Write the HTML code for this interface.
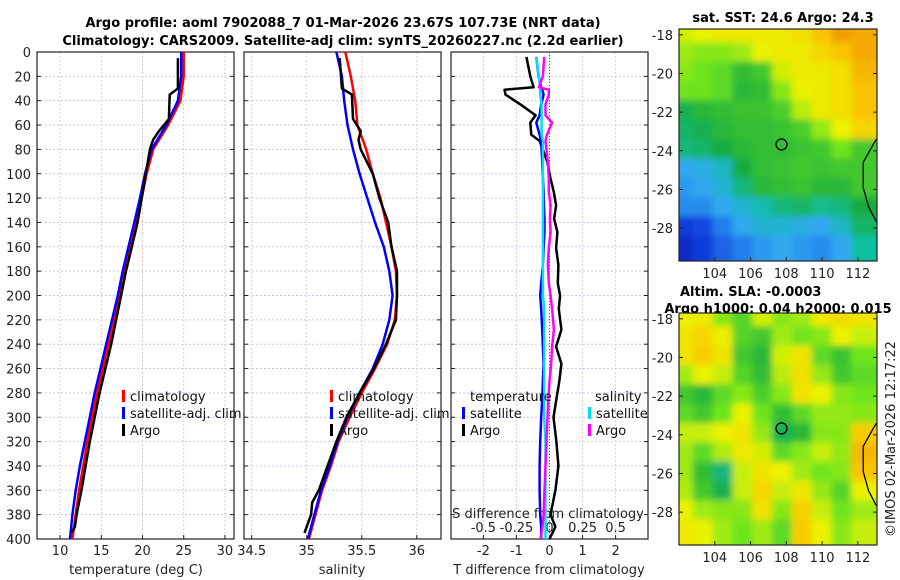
<!DOCTYPE html>
<html><head><meta charset="utf-8"><style>
body{margin:0;background:#fff}
svg{display:block;font-family:"DejaVu Sans","Liberation Sans",sans-serif}
</style></head><body>
<svg id="c" width="900" height="580" viewBox="0 0 900 580">
<defs>
<filter id="bl" x="-5%" y="-5%" width="110%" height="110%"><feGaussianBlur stdDeviation="3.5"/></filter>
<clipPath id="m1c"><rect x="679" y="29" width="198" height="232"/></clipPath>
<clipPath id="m2c"><rect x="679" y="313" width="198" height="232"/></clipPath>
</defs>
<text x="343" y="27" text-anchor="middle" font-weight="bold" font-size="13">Argo profile: aoml 7902088_7 01-Mar-2026 23.67S 107.73E (NRT data)</text>
<text x="343" y="45" text-anchor="middle" font-weight="bold" font-size="13">Climatology: CARS2009. Satellite-adj clim: synTS_20260227.nc (2.2d earlier)</text>
<text x="783" y="22" text-anchor="middle" font-weight="bold" font-size="13">sat. SST: 24.6 Argo: 24.3</text>
<text x="680" y="296" text-anchor="start" font-weight="bold" font-size="13">Altim. SLA: -0.0003</text>
<text x="778" y="313" text-anchor="middle" font-weight="bold" font-size="13">Argo h1000: 0.04 h2000: 0.015</text>
<text transform="translate(895,439) rotate(-90)" text-anchor="middle" font-size="13" fill="#222">©IMOS 02-Mar-2026 12:17:22</text>
</svg>
<script>
// ---- data ----
const depthClim=[0,20,40,60,80,100,120,140,160,180,200,220,240,260,280,300,320,340,360,380,400];
const climT=[25.0,25.0,24.6,23.1,21.3,20.5,19.9,19.2,18.5,17.8,17.2,16.6,15.9,15.2,14.5,13.9,13.3,12.8,12.3,11.9,11.5];
const satT=[24.7,24.7,24.3,22.9,21.1,20.3,19.7,19.0,18.3,17.6,17.0,16.3,15.6,14.9,14.2,13.6,13.0,12.4,11.9,11.5,11.2];
const climS=[35.35,35.40,35.44,35.46,35.54,35.60,35.67,35.72,35.77,35.81,35.82,35.80,35.73,35.62,35.50,35.39,35.29,35.22,35.14,35.08,35.02];
const satS=[35.27,35.32,35.34,35.37,35.42,35.48,35.55,35.62,35.70,35.75,35.78,35.75,35.69,35.60,35.48,35.37,35.28,35.21,35.13,35.07,35.01];
const depthArgo=[5,30,35,55,65,72,80,100,120,140,160,180,200,220,240,260,280,300,320,340,360,370,380,390,395];
const argoT=[24.3,24.3,23.3,23.2,22.0,21.3,20.9,20.4,19.9,19.4,18.7,18.0,17.4,16.8,16.2,15.5,14.8,14.2,13.6,13.1,12.6,12.3,12.0,11.8,11.4];
const argoS=[35.30,35.32,35.41,35.42,35.49,35.47,35.49,35.60,35.66,35.74,35.77,35.82,35.82,35.81,35.72,35.61,35.48,35.36,35.27,35.19,35.11,35.05,35.04,35.00,34.98];
const depthDiff=[4,20,29,31,35,43,52,58,68,73,90,104,115,126,137,148,161,175,190,200,211,228,242,256,270,285,300,320,340,360,380,390,400];
const argoTdiff=[-0.70,-0.58,-0.48,-1.36,-1.33,-0.88,-0.42,-0.58,-0.55,-0.30,-0.07,0.03,0.13,0.20,0.14,0.24,0.20,0.27,0.25,0.32,0.28,0.36,0.20,0.36,0.30,0.21,0.12,0.21,0.27,0.18,0.03,0.18,0.0];
const satTdiff=[-0.40,-0.33,-0.25,-0.22,-0.18,-0.25,-0.30,-0.40,-0.30,-0.25,-0.22,-0.20,-0.18,-0.17,-0.15,-0.15,-0.18,-0.20,-0.25,-0.28,-0.25,-0.22,-0.20,-0.18,-0.20,-0.22,-0.25,-0.28,-0.30,-0.30,-0.28,-0.25,-0.25];
const satSdiff=[-0.10,-0.08,-0.07,-0.07,-0.07,-0.06,-0.06,-0.06,-0.06,-0.05,-0.05,-0.05,-0.05,-0.05,-0.05,-0.05,-0.05,-0.05,-0.05,-0.05,-0.04,-0.04,-0.04,-0.04,-0.04,-0.04,-0.04,-0.03,-0.03,-0.03,-0.03,-0.03,-0.03];
const argoSdiff=[-0.04,-0.05,-0.08,-0.005,-0.005,-0.03,-0.03,0.02,-0.02,-0.03,-0.013,-0.005,-0.005,0.008,0.003,0.008,-0.005,-0.013,-0.005,0.008,0.02,0.033,0.02,0.013,0.0,-0.008,-0.015,-0.023,-0.03,-0.038,-0.045,-0.053,-0.068];
const depthTicks=[0,20,40,60,80,100,120,140,160,180,200,220,240,260,280,300,320,340,360,380,400];
const tTicks=[10,15,20,25,30];
const sTicks=[34.5,35,35.5,36];
const dTicks=[-2,-1,0,1,2];
const dsTicks=[-0.5,-0.25,0,0.25,0.5];
const dsLabels=["-0.5","-0.25","0","0.25","0.5"];
const lonTicks=[104,106,108,110,112];
const latTicks=[-18,-20,-22,-24,-26,-28];
const argoLon=107.73, argoLat=-23.67;
const sstGrid=[
[.68,.70,.72,.72,.72,.72,.74,.80,.86,.84],
[.64,.62,.62,.64,.70,.72,.72,.76,.80,.84],
[.62,.60,.58,.53,.55,.68,.72,.72,.74,.82],
[.60,.60,.58,.52,.53,.62,.70,.72,.74,.80],
[.48,.52,.53,.54,.54,.56,.66,.72,.74,.80],
[.46,.48,.52,.53,.53,.54,.56,.63,.70,.76],
[.44,.46,.50,.52,.53,.53,.54,.55,.60,.55],
[.30,.32,.36,.50,.53,.54,.55,.54,.55,.55],
[.28,.30,.34,.44,.52,.53,.54,.52,.52,.55],
[.26,.26,.30,.34,.38,.44,.46,.42,.44,.50],
[.14,.16,.24,.30,.34,.34,.32,.30,.36,.46],
[.10,.14,.20,.24,.28,.30,.28,.26,.30,.40]];
const slaGrid=[
[.70,.72,.62,.57,.68,.62,.64,.72,.75,.73],
[.73,.76,.71,.57,.55,.64,.60,.62,.70,.67],
[.73,.78,.73,.55,.52,.68,.73,.58,.54,.60],
[.64,.70,.67,.57,.53,.66,.74,.63,.55,.58],
[.55,.52,.58,.62,.56,.62,.73,.70,.62,.60],
[.58,.55,.60,.70,.60,.53,.58,.63,.63,.62],
[.67,.67,.70,.73,.63,.48,.52,.62,.62,.78],
[.64,.58,.65,.72,.68,.58,.62,.67,.63,.82],
[.64,.53,.44,.67,.73,.70,.64,.60,.62,.80],
[.65,.55,.48,.67,.76,.67,.72,.63,.57,.70],
[.70,.64,.62,.62,.74,.62,.77,.67,.60,.64],
[.72,.70,.64,.60,.64,.58,.78,.70,.62,.67]];
const coastLon=[113.4,112.9,112.3,112.3,112.6,113.0,113.4];
const coastLat=[-22.9,-23.6,-24.6,-25.9,-26.9,-27.6,-28.1];

// ---- geometry ----
const NS='http://www.w3.org/2000/svg', svg=document.getElementById('c');
function mk(tag,at,parent){const e=document.createElementNS(NS,tag);for(const k in at)e.setAttribute(k,at[k]);(parent||svg).appendChild(e);return e;}
const TOP=52,BOT=539;
const y=d=>TOP+d*(BOT-TOP)/400;
const P1={l:37,r:234}, P2={l:244,r:441}, P3={l:451,r:648};
const tx=v=>P1.l+(v-7.2)*(P1.r-P1.l)/(31.1-7.2);
const sx=v=>P2.l+(v-34.43)*(P2.r-P2.l)/(36.22-34.43);
const dx=v=>P3.l+(v+2.98)*(P3.r-P3.l)/5.96;
const dsx=v=>dx(v*4);
const M1={l:679,r:877,t:29,b:261}, M2={l:679,r:877,t:313,b:545};
const lonX=(M,v)=>M.l+(v-102.0)*(M.r-M.l)/(113.07-102.0);
const latY=(M,v)=>M.t+(-17.7-v)*(M.b-M.t)/12.0;

function panelFrame(P,name,xt,xf,xlab){
  const g=mk('g',{});
  
  
  depthTicks.forEach(d=>{const ln=mk('line',{x1:P.l,x2:P.r,y1:y(d),y2:y(d),stroke:'#c4cbef','stroke-width':1,'stroke-dasharray':'2,2'},g);
    
    
    mk('line',{x1:P.l,x2:P.l+4,y1:y(d),y2:y(d),stroke:'#222'},g);mk('line',{x1:P.r,x2:P.r-4,y1:y(d),y2:y(d),stroke:'#222'},g);});
  xt.forEach((v,i)=>{const ln=mk('line',{x1:xf(v),x2:xf(v),y1:TOP,y2:BOT,stroke:'#e8c8b8','stroke-width':1,'stroke-dasharray':'2,2'},g);
    
    
    mk('line',{x1:xf(v),x2:xf(v),y1:BOT,y2:BOT-4,stroke:'#222'},g);
    if(xlab){const t=mk('text',{x:xf(v),y:BOT+16,'text-anchor':'middle','font-size':13,fill:'#222'},g);t.textContent=xlab[i];
    
    }});
  mk('rect',{x:P.l,y:TOP,width:P.r-P.l,height:BOT-TOP,fill:'none',stroke:'#222','stroke-width':1.2},g);
  return g;
}
panelFrame(P1,'temperature-panel',tTicks,tx,tTicks.map(String));
panelFrame(P2,'salinity-panel',sTicks,sx,sTicks.map(String));
panelFrame(P3,'difference-panel',dTicks,dx,dTicks.map(String));
depthTicks.forEach(d=>{const t=mk('text',{x:31,y:y(d)+5,'text-anchor':'end','font-size':13,fill:'#222'});t.textContent=d;
  
  });
const zl=mk('line',{x1:dx(0),x2:dx(0),y1:TOP,y2:BOT,stroke:'#555','stroke-dasharray':'1,2'});


dsTicks.forEach((v,i)=>{const t=mk('text',{x:dsx(v),y:532,'text-anchor':'middle','font-size':13,fill:'#222'});t.textContent=dsLabels[i];
  
  });
function label(x,yy,s,name,anchor){const t=mk('text',{x:x,y:yy,'text-anchor':anchor||'middle','font-size':13,fill:'#222'});t.textContent=s;
  
  return t;}
label(548,518,'S difference from climatology','s-diff-axis-title');
label(136,574,'temperature (deg C)','temperature-axis-title');
label(342,574,'salinity','salinity-axis-title');
label(549,574,'T difference from climatology','t-diff-axis-title');

function series(xs,ds,xf,color,w,name){
  const pts=xs.map((v,i)=>xf(v).toFixed(1)+','+y(ds[i]).toFixed(1)).join(' ');
  const p=mk('polyline',{points:pts,fill:'none',stroke:color,'stroke-width':w,'stroke-linejoin':'round'});
  
  
}
series(climT,depthClim,tx,'#f00',2.5,'climatology-temperature-line');
series(satT,depthClim,tx,'#00f',2.5,'satellite-temperature-line');
series(argoT,depthArgo,tx,'#000',2.5,'argo-temperature-line');
series(climS,depthClim,sx,'#f00',2.5,'climatology-salinity-line');
series(satS,depthClim,sx,'#00f',2.5,'satellite-salinity-line');
series(argoS,depthArgo,sx,'#000',2.5,'argo-salinity-line');
series(argoTdiff,depthDiff,dx,'#000',2.5,'argo-t-diff-line');
series(satTdiff,depthDiff,dx,'#00f',2.5,'satellite-t-diff-line');
series(satSdiff,depthDiff,dsx,'#00e0f0',2.5,'satellite-s-diff-line');
series(argoSdiff,depthDiff,dsx,'#f0f',2.5,'argo-s-diff-line');

function legend(x0,items,name){
  const g=mk('g',{});
  
  
  items.forEach((it,i)=>{const yy=400+i*17;
    if(it[1]){const r=mk('rect',{x:x0,y:yy-10,width:3,height:12,fill:it[1]},g);
      
      }
    const t=mk('text',{x:x0+(it[1]?8:0),y:yy+1,'font-size':13,fill:'#111'},g);t.textContent=it[0];
    
    });
}
legend(122,[['climatology','#f00'],['satellite-adj. clim','#00f'],['Argo','#000']],'temperature-legend');
legend(330,[['climatology','#f00'],['satellite-adj. clim','#00f'],['Argo','#000']],'salinity-legend');
legend(470,[['temperature',null]],'diff-legend-temp-header');
legend(462,[['',null],['satellite','#00f'],['Argo','#000']],'diff-legend-temperature');
legend(595,[['salinity',null]],'diff-legend-sal-header');
legend(588,[['',null],['satellite','#00e0f0'],['Argo','#f0f']],'diff-legend-salinity');

// ---- maps ----
const stops=[[0,[0,0,144]],[0.15,[16,64,224]],[0.3,[48,168,240]],[0.4,[16,192,160]],[0.5,[24,172,64]],[0.6,[110,228,30]],[0.7,[235,242,0]],[0.8,[250,196,0]],[0.9,[236,130,0]],[1,[192,80,0]]];
function cmap(v){for(let i=1;i<stops.length;i++){if(v<=stops[i][0]){const a=stops[i-1],b=stops[i],f=(v-a[0])/(b[0]-a[0]);
  return 'rgb('+a[1].map((c,k)=>Math.round(c+(b[1][k]-c)*f)).join(',')+')';}}return 'rgb(192,80,0)';}
function drawMap(M,grid,clip,name){
  const g=mk('g',{'clip-path':'url(#'+clip+')'});
  
  
  const inner=mk('g',{filter:'url(#bl)'},g);
  const rows=grid.length,cols=grid[0].length,lonSpan=113.07-102.0;
  grid.forEach((row,r)=>row.forEach((v,c)=>{
    const x0=lonX(M,102.0+c*lonSpan/cols)-6,x1=lonX(M,102.0+(c+1)*lonSpan/cols)+6;
    const y0=latY(M,-17.7-r)-6,y1=latY(M,-17.7-(r+1))+6;
    const rc=mk('rect',{x:x0,y:y0,width:x1-x0,height:y1-y0,fill:cmap(v)},inner);
    
    }));
  const cp=coastLon.map((v,i)=>lonX(M,v).toFixed(1)+','+latY(M,coastLat[i]).toFixed(1)).join(' ');
  const cl=mk('polyline',{points:cp,fill:'none',stroke:'#000','stroke-width':1.3},g);
  
  
  const ci=mk('circle',{cx:lonX(M,argoLon),cy:latY(M,argoLat),r:5.5,fill:'none',stroke:'#000','stroke-width':1.3},g);
  
  
  const fr=mk('rect',{x:M.l,y:M.t,width:M.r-M.l,height:M.b-M.t,fill:'none',stroke:'#222','stroke-width':1.2});
  
  
  lonTicks.forEach(v=>{mk('line',{x1:lonX(M,v),x2:lonX(M,v),y1:M.b,y2:M.b-4,stroke:'#222'});
    const t=mk('text',{x:lonX(M,v),y:M.b+17,'text-anchor':'middle','font-size':13,fill:'#222'});t.textContent=v;
    
    });
  latTicks.forEach(v=>{mk('line',{x1:M.l,x2:M.l+4,y1:latY(M,v),y2:latY(M,v),stroke:'#222'});mk('line',{x1:M.r,x2:M.r-4,y1:latY(M,v),y2:latY(M,v),stroke:'#222'});
    const t=mk('text',{x:M.l-6,y:latY(M,v)+5,'text-anchor':'end','font-size':13,fill:'#222'});t.textContent=v;
    
    });
}
drawMap(M1,sstGrid,'m1c','sst-map');
drawMap(M2,slaGrid,'m2c','sla-map');
</script>
</body></html>
